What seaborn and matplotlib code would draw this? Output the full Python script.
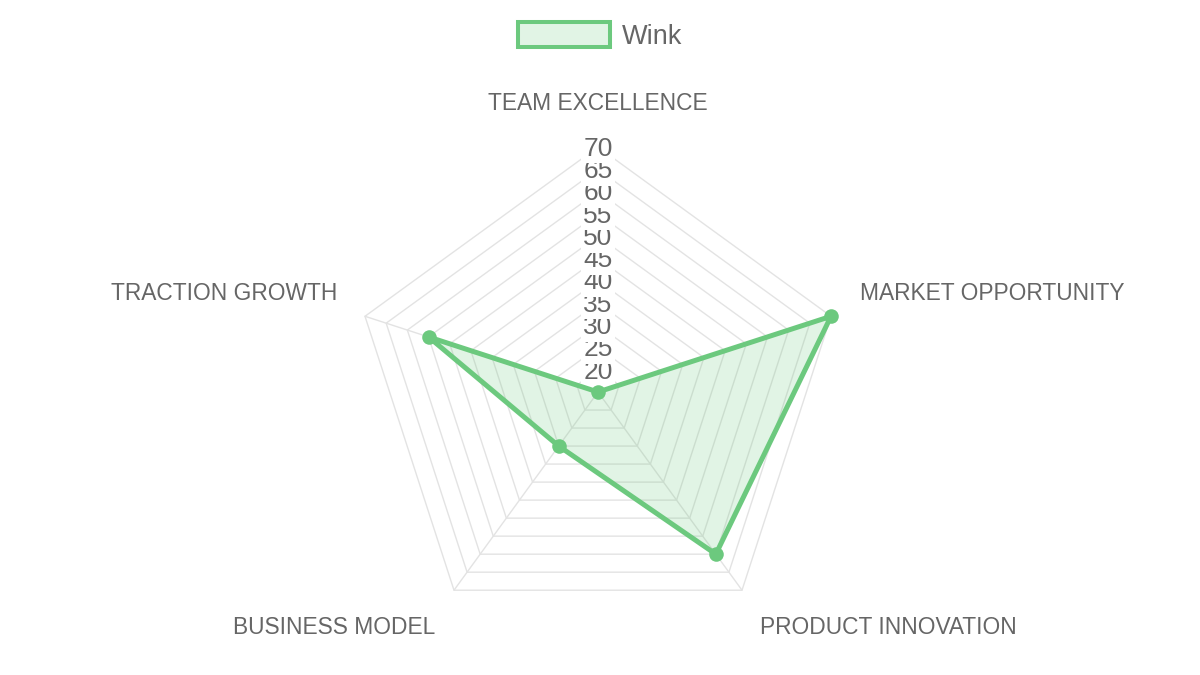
import numpy as np
import matplotlib.pyplot as plt
import seaborn as sns
from matplotlib.patches import Patch
from matplotlib.colors import to_rgba

categories = ["TEAM EXCELLENCE", "MARKET OPPORTUNITY", "PRODUCT INNOVATION",
              "BUSINESS MODEL", "TRACTION GROWTH"]
wink_scores = [15, 70, 60, 30, 55]
series_name = "Wink"
tick_values = [20, 25, 30, 35, 40, 45, 50, 55, 60, 65, 70]
scale_min = 15
scale_max = 70

sns.set_theme(style="white")
plt.rcParams["font.family"] = ["Liberation Sans", "DejaVu Sans"]

green = "#6cc97e"
text_grey = "#666666"
grid_grey = "#e3e3e3"

n = len(categories)
angles = np.pi / 2 - 2 * np.pi * np.arange(n) / n


def to_xy(values):
    r = np.asarray(values, dtype=float) - scale_min
    return r * np.cos(angles), r * np.sin(angles)


# layout: chart centre in pixels and outer radius in pixels
W, H = 1200, 675
cx, cy, radius_px = 598, 392, 245
ppu = radius_px / (scale_max - scale_min)

fig = plt.figure(figsize=(12, 6.75), dpi=100)
ax = fig.add_axes([0, 0, 1, 1])
ax.set_xlim(-cx / ppu, (W - cx) / ppu)
ax.set_ylim(-(H - cy) / ppu, cy / ppu)
ax.set_aspect("equal", adjustable="datalim")
ax.axis("off")

# grid polygons
for v in tick_values:
    gx, gy = to_xy([v] * n)
    ax.plot(np.append(gx, gx[0]), np.append(gy, gy[0]), color=grid_grey, lw=1, zorder=1)

# spokes
ox, oy = to_xy([scale_max] * n)
for i in range(n):
    ax.plot([0, ox[i]], [0, oy[i]], color=grid_grey, lw=1, zorder=1)

# data
sx, sy = to_xy(wink_scores)
closed_x = np.append(sx, sx[0])
closed_y = np.append(sy, sy[0])
ax.fill(closed_x, closed_y, color=green, alpha=0.2, lw=0, zorder=2)
sns.lineplot(x=closed_x, y=closed_y, sort=False, estimator=None, color=green,
             lw=3.6, ax=ax, zorder=30)
sns.scatterplot(x=sx, y=sy, color=green, s=110, linewidth=0, zorder=31, ax=ax)

# tick labels with white backdrop
for i, v in enumerate(tick_values):
    ax.text(0, v - scale_min - 0.4, str(v), ha="center", va="center", fontsize=19,
            color=text_grey, zorder=5 + i,
            bbox=dict(boxstyle="square,pad=0.1", fc="white", ec="none"))

# category labels
offsets = [(0, 44, "center"), (29, 23, "left"), (18, -37, "left"),
           (-19, -37, "right"), (-28, 23, "right")]
for i, label in enumerate(categories):
    dx, dy, ha = offsets[i]
    ax.annotate(label, xy=(ox[i], oy[i]), xytext=(dx, dy), textcoords="offset pixels",
                ha=ha, va="center", fontsize=16.4, color=text_grey, zorder=20)

handle = Patch(facecolor=to_rgba(green, 0.2), edgecolor=green, linewidth=2.9,
               label=series_name)
fig.legend(handles=[handle], loc="center", bbox_to_anchor=(0.5, 0.947),
           frameon=False, fontsize=19.5, labelcolor=text_grey, handlelength=3.4,
           handleheight=1.05, handletextpad=0.45, borderpad=0)

fig.savefig("out.png", dpi=100)
